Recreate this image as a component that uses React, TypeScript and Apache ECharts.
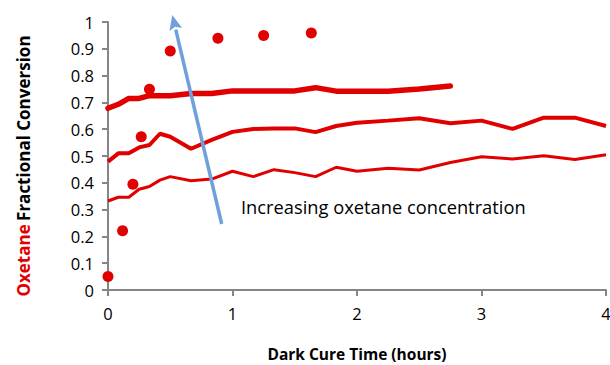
import React, { useEffect, useRef } from "react";
import * as echarts from "echarts";

const lineTimes = [0, 0.083, 0.167, 0.25, 0.333, 0.417, 0.5, 0.667, 0.833, 1.0, 1.167, 1.333, 1.5, 1.667, 1.833, 2.0, 2.25, 2.5, 2.75, 3.0, 3.25, 3.5, 3.75, 4.0];
const highConc = [0.678, 0.693, 0.715, 0.715, 0.725, 0.725, 0.725, 0.733, 0.733, 0.743, 0.743, 0.743, 0.743, 0.755, 0.742, 0.742, 0.742, 0.75, 0.761];
const midConc = [0.479, 0.51, 0.51, 0.532, 0.541, 0.583, 0.572, 0.527, 0.56, 0.59, 0.601, 0.603, 0.603, 0.589, 0.612, 0.624, 0.632, 0.641, 0.622, 0.632, 0.601, 0.643, 0.643, 0.612];
const lowConc = [0.332, 0.346, 0.346, 0.376, 0.386, 0.41, 0.423, 0.408, 0.414, 0.443, 0.423, 0.449, 0.438, 0.423, 0.458, 0.443, 0.454, 0.448, 0.476, 0.497, 0.489, 0.501, 0.487, 0.505];
const dotTimes = [0, 0.117, 0.2, 0.267, 0.333, 0.5, 0.883, 1.25, 1.633];
const dotValues = [0.05, 0.221, 0.395, 0.572, 0.749, 0.892, 0.939, 0.95, 0.959];

const RED = "#E00000";
const FONT = "Open Sans";

function pairs(xs: number[], ys: number[]) {
  return ys.map((y, i) => [xs[i], y]);
}

export default function App() {
  const ref = useRef<HTMLDivElement>(null);
  useEffect(() => {
    document.body.style.margin = "0";
    const chart = echarts.init(ref.current!, null, { renderer: "svg" });
    const tail = [221.7, 224];
    const tip = [172.3, 15];
    const dx = tip[0] - tail[0];
    const dy = tip[1] - tail[1];
    const len = Math.sqrt(dx * dx + dy * dy);
    const ux = dx / len, uy = dy / len;
    const hl = 15, hw = 6.5;
    const bx = tip[0] - hl * ux, by = tip[1] - hl * uy;
    const nx = -uy, ny = ux;
    chart.setOption({
      animation: false,
      grid: { left: 108, right: 4, top: 22, bottom: 75, outerBoundsMode: "none", containLabel: false },
      xAxis: {
        type: "value",
        min: 0,
        max: 4,
        interval: 1,
        name: "Dark Cure Time (hours)",
        nameLocation: "middle",
        nameGap: 56,
        nameTextStyle: { fontFamily: FONT, fontWeight: "bold", fontSize: 15.5, color: "#000" },
        axisLine: { lineStyle: { color: "#868686", width: 2 } },
        axisTick: { show: true, length: 6, lineStyle: { color: "#868686", width: 2 } },
        axisLabel: { fontFamily: FONT, fontSize: 16.5, color: "#000", margin: 15 },
        splitLine: { show: false },
      },
      yAxis: {
        type: "value",
        min: 0,
        max: 1,
        interval: 0.1,
        axisLine: { show: true, lineStyle: { color: "#868686", width: 2 } },
        axisTick: { show: true, length: 6, lineStyle: { color: "#868686", width: 2 } },
        axisLabel: { fontFamily: FONT, fontSize: 16.5, color: "#000", margin: 14 },
        splitLine: { show: false },
      },
      series: [
        {
          type: "line",
          data: pairs(lineTimes, highConc),
          showSymbol: false,
          lineStyle: { color: RED, width: 5.5, cap: "round" },
          z: 2,
        },
        {
          type: "line",
          data: pairs(lineTimes, midConc),
          showSymbol: false,
          lineStyle: { color: RED, width: 4 },
          z: 2,
        },
        {
          type: "line",
          data: pairs(lineTimes, lowConc),
          showSymbol: false,
          lineStyle: { color: RED, width: 3 },
          z: 2,
        },
        {
          type: "scatter",
          data: pairs(dotTimes, dotValues),
          symbol: "circle",
          symbolSize: 11,
          itemStyle: { color: RED, opacity: 1 },
          clip: false,
          z: 3,
        },
      ],
      graphic: [
        {
          type: "text",
          x: 23,
          y: 166,
          rotation: Math.PI / 2,
          style: {
            text: "{r|Oxetane} {k|Fractional Conversion}",
            align: "center",
            verticalAlign: "middle",
            rich: {
              r: { fontFamily: FONT, fontWeight: "bold", fontSize: 17, fill: RED, color: RED },
              k: { fontFamily: FONT, fontWeight: "bold", fontSize: 17, fill: "#000", color: "#000" },
            },
          },
        },
        {
          type: "line",
          shape: { x1: tail[0], y1: tail[1], x2: bx, y2: by },
          style: { stroke: "#6FA0DC", lineWidth: 3.5 },
          z: 10,
        },
        {
          type: "polygon",
          shape: {
            points: [
              [tip[0], tip[1]],
              [bx + hw * nx, by + hw * ny],
              [bx + 3 * ux, by + 3 * uy],
              [bx - hw * nx, by - hw * ny],
            ],
          },
          style: { fill: "#6FA0DC" },
          z: 10,
        },
        {
          type: "text",
          left: 241,
          top: 197,
          style: {
            text: "Increasing oxetane concentration",
            fontFamily: FONT,
            fontSize: 18.3,
            fill: "#000",
          },
          z: 10,
        },
      ],
    });
    return () => chart.dispose();
  }, []);
  return <div ref={ref} style={{ width: 610, height: 365 }} />;
}
